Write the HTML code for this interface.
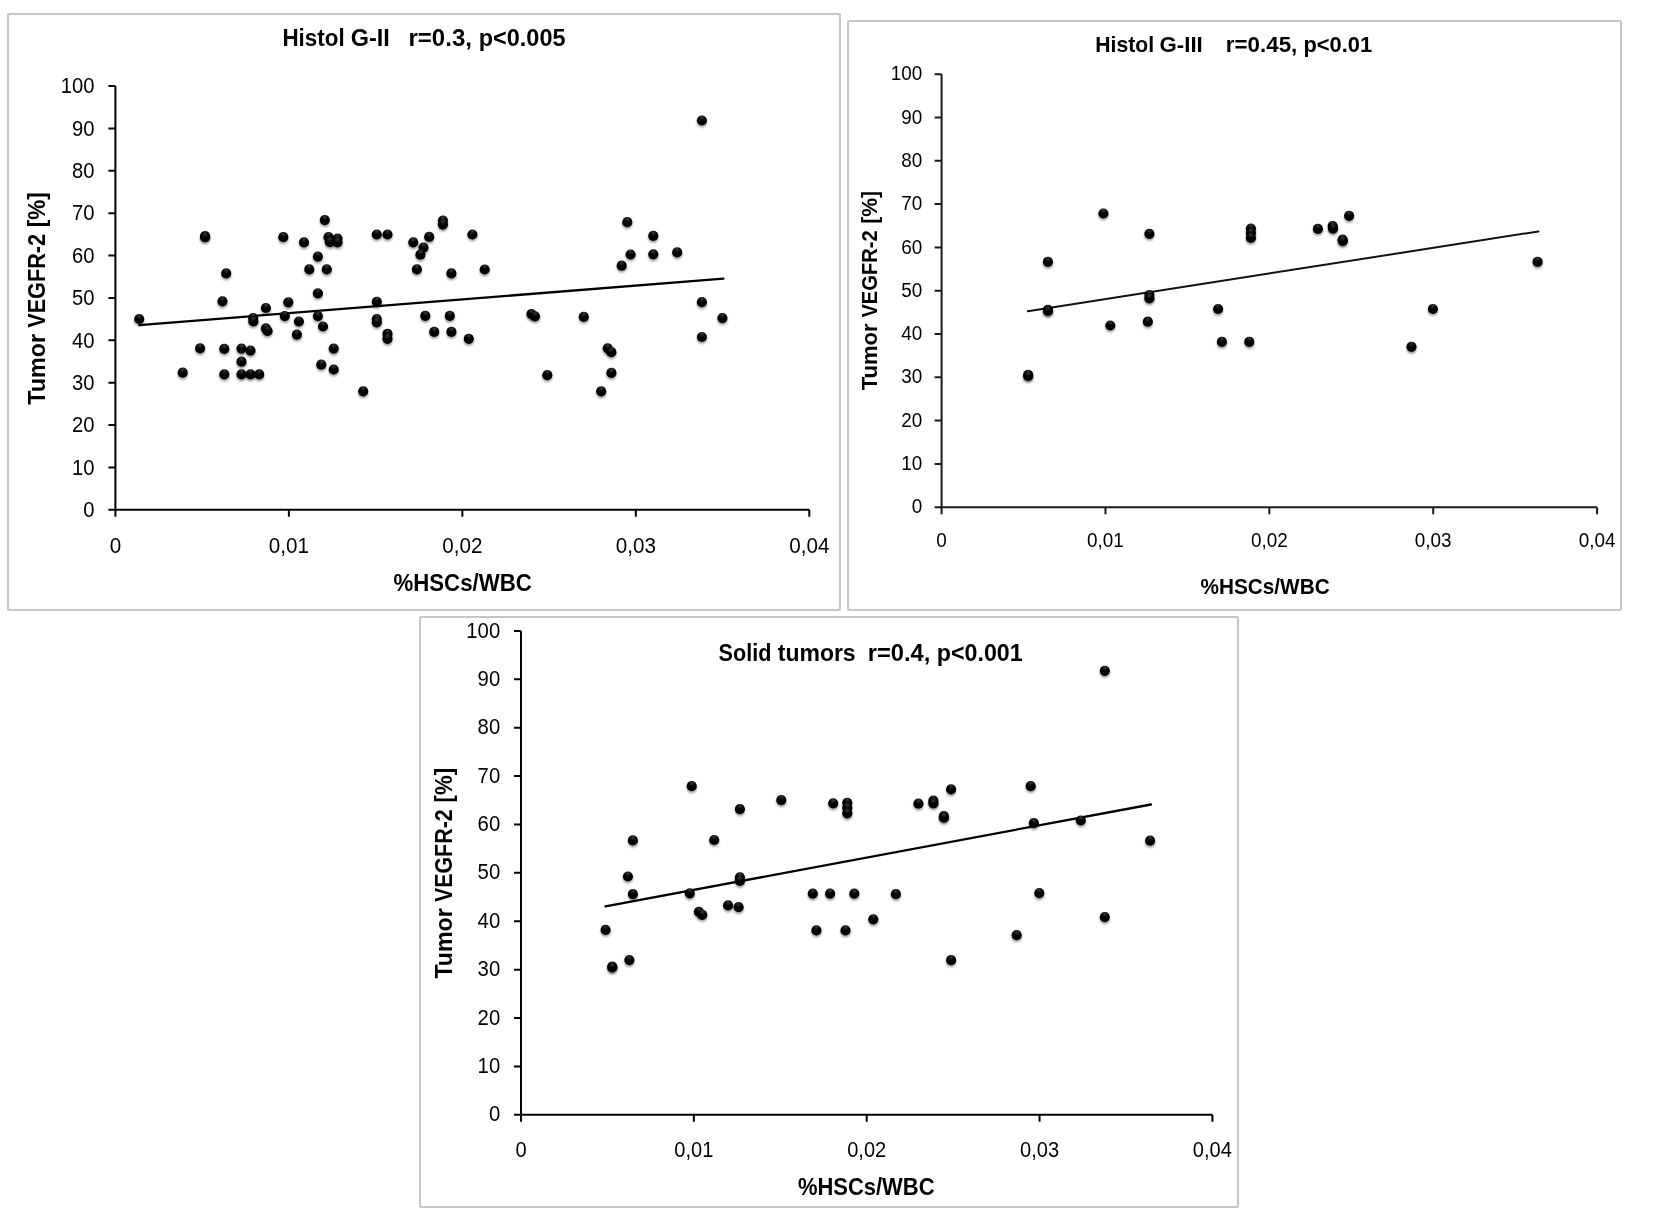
<!DOCTYPE html>
<html><head><meta charset="utf-8"><style>
html,body{margin:0;padding:0;background:#fff;}
svg{display:block;will-change:transform;font-family:"Liberation Sans",sans-serif;}
text{fill:#000;}
</style></head><body>
<svg width="1662" height="1218" viewBox="0 0 1662 1218">
<defs>
<filter id="sh" x="-50%" y="-50%" width="200%" height="200%">
<feGaussianBlur in="SourceAlpha" stdDeviation="1.3"/>
<feOffset dx="0.2" dy="1.6" result="b"/>
<feComponentTransfer><feFuncA type="linear" slope="0.38"/></feComponentTransfer>
<feMerge><feMergeNode/><feMergeNode in="SourceGraphic"/></feMerge>
</filter>
<radialGradient id="dg" cx="0.5" cy="0.2" r="0.55">
<stop offset="0" stop-color="#3a3a3a"/><stop offset="0.55" stop-color="#050505"/><stop offset="1" stop-color="#000"/>
</radialGradient>
<g id="dot"><circle cx="0" cy="0" r="5.1" fill="url(#dg)" filter="url(#sh)"/></g>
</defs>
<rect x="0" y="0" width="1662" height="1218" fill="#fff"/>
<rect x="8" y="14" width="832" height="596" rx="1.2" fill="none" stroke="#c6c6c6" stroke-width="2"/>
<rect x="848" y="21" width="773" height="589" rx="1.2" fill="none" stroke="#c6c6c6" stroke-width="2"/>
<rect x="420" y="617" width="818" height="590" rx="1.2" fill="none" stroke="#c6c6c6" stroke-width="2"/>
<path d="M108.40,509.85H809.30" stroke="#000" stroke-width="2" fill="none"/>
<path d="M115.40,86.00V516.85" stroke="#000" stroke-width="2" fill="none"/>
<path d="M108.40,467.47H115.40M108.40,425.08H115.40M108.40,382.69H115.40M108.40,340.31H115.40M108.40,297.93H115.40M108.40,255.54H115.40M108.40,213.15H115.40M108.40,170.77H115.40M108.40,128.38H115.40M108.40,86.00H115.40M288.88,509.85V516.85M462.35,509.85V516.85M635.82,509.85V516.85M809.30,509.85V516.85" stroke="#000" stroke-width="2" fill="none"/>
<text transform="translate(94.50,517.15) scale(0.95,1)" font-size="21.3" text-anchor="end">0</text>
<text transform="translate(94.50,474.77) scale(0.95,1)" font-size="21.3" text-anchor="end">10</text>
<text transform="translate(94.50,432.38) scale(0.95,1)" font-size="21.3" text-anchor="end">20</text>
<text transform="translate(94.50,390.00) scale(0.95,1)" font-size="21.3" text-anchor="end">30</text>
<text transform="translate(94.50,347.61) scale(0.95,1)" font-size="21.3" text-anchor="end">40</text>
<text transform="translate(94.50,305.23) scale(0.95,1)" font-size="21.3" text-anchor="end">50</text>
<text transform="translate(94.50,262.84) scale(0.95,1)" font-size="21.3" text-anchor="end">60</text>
<text transform="translate(94.50,220.45) scale(0.95,1)" font-size="21.3" text-anchor="end">70</text>
<text transform="translate(94.50,178.07) scale(0.95,1)" font-size="21.3" text-anchor="end">80</text>
<text transform="translate(94.50,135.69) scale(0.95,1)" font-size="21.3" text-anchor="end">90</text>
<text transform="translate(94.50,93.30) scale(0.95,1)" font-size="21.3" text-anchor="end">100</text>
<text transform="translate(115.40,552.80) scale(0.97,1)" font-size="21.3" text-anchor="middle">0</text>
<text transform="translate(288.88,552.80) scale(0.97,1)" font-size="21.3" text-anchor="middle">0,01</text>
<text transform="translate(462.35,552.80) scale(0.97,1)" font-size="21.3" text-anchor="middle">0,02</text>
<text transform="translate(635.82,552.80) scale(0.97,1)" font-size="21.3" text-anchor="middle">0,03</text>
<text transform="translate(809.30,552.80) scale(0.97,1)" font-size="21.3" text-anchor="middle">0,04</text>
<path d="M139.2,325.1L723.4,278.6" stroke="#000" stroke-width="2.3" stroke-linecap="round" fill="none"/>
<use href="#dot" x="139.2" y="319.0"/>
<use href="#dot" x="182.7" y="372.7"/>
<use href="#dot" x="200.1" y="348.3"/>
<use href="#dot" x="205.1" y="236.0"/>
<use href="#dot" x="205.1" y="237.2"/>
<use href="#dot" x="222.5" y="301.3"/>
<use href="#dot" x="224.3" y="348.9"/>
<use href="#dot" x="224.3" y="374.4"/>
<use href="#dot" x="226.2" y="273.4"/>
<use href="#dot" x="241.5" y="348.6"/>
<use href="#dot" x="241.5" y="361.7"/>
<use href="#dot" x="241.5" y="374.4"/>
<use href="#dot" x="250.5" y="350.6"/>
<use href="#dot" x="250.5" y="374.4"/>
<use href="#dot" x="259.2" y="374.4"/>
<use href="#dot" x="253.2" y="318.0"/>
<use href="#dot" x="253.4" y="321.5"/>
<use href="#dot" x="265.9" y="308.0"/>
<use href="#dot" x="265.9" y="328.4"/>
<use href="#dot" x="267.6" y="331.0"/>
<use href="#dot" x="283.3" y="237.2"/>
<use href="#dot" x="284.8" y="316.1"/>
<use href="#dot" x="288.3" y="302.3"/>
<use href="#dot" x="296.9" y="334.7"/>
<use href="#dot" x="298.9" y="321.5"/>
<use href="#dot" x="304.0" y="242.4"/>
<use href="#dot" x="309.3" y="269.4"/>
<use href="#dot" x="317.9" y="256.6"/>
<use href="#dot" x="317.9" y="293.3"/>
<use href="#dot" x="317.9" y="316.1"/>
<use href="#dot" x="323.0" y="326.5"/>
<use href="#dot" x="324.8" y="220.1"/>
<use href="#dot" x="326.8" y="269.4"/>
<use href="#dot" x="328.5" y="237.2"/>
<use href="#dot" x="329.9" y="242.2"/>
<use href="#dot" x="333.7" y="348.6"/>
<use href="#dot" x="321.3" y="364.7"/>
<use href="#dot" x="333.7" y="369.5"/>
<use href="#dot" x="337.5" y="238.5"/>
<use href="#dot" x="337.5" y="242.5"/>
<use href="#dot" x="363.2" y="391.3"/>
<use href="#dot" x="376.8" y="234.5"/>
<use href="#dot" x="387.5" y="234.5"/>
<use href="#dot" x="376.8" y="301.8"/>
<use href="#dot" x="376.8" y="319.0"/>
<use href="#dot" x="376.8" y="322.3"/>
<use href="#dot" x="387.5" y="333.8"/>
<use href="#dot" x="387.5" y="338.8"/>
<use href="#dot" x="413.3" y="242.4"/>
<use href="#dot" x="429.2" y="236.9"/>
<use href="#dot" x="423.5" y="247.6"/>
<use href="#dot" x="420.4" y="254.7"/>
<use href="#dot" x="442.9" y="220.5"/>
<use href="#dot" x="442.9" y="224.6"/>
<use href="#dot" x="416.9" y="269.3"/>
<use href="#dot" x="425.3" y="315.8"/>
<use href="#dot" x="434.2" y="331.9"/>
<use href="#dot" x="449.8" y="315.8"/>
<use href="#dot" x="451.4" y="273.4"/>
<use href="#dot" x="451.4" y="331.9"/>
<use href="#dot" x="472.4" y="234.5"/>
<use href="#dot" x="484.7" y="269.5"/>
<use href="#dot" x="468.8" y="338.8"/>
<use href="#dot" x="531.4" y="314.1"/>
<use href="#dot" x="535.0" y="316.3"/>
<use href="#dot" x="583.8" y="316.9"/>
<use href="#dot" x="547.3" y="375.2"/>
<use href="#dot" x="607.7" y="348.3"/>
<use href="#dot" x="611.4" y="352.2"/>
<use href="#dot" x="611.4" y="372.9"/>
<use href="#dot" x="601.2" y="391.3"/>
<use href="#dot" x="627.3" y="222.2"/>
<use href="#dot" x="653.3" y="235.9"/>
<use href="#dot" x="630.6" y="254.5"/>
<use href="#dot" x="621.7" y="265.7"/>
<use href="#dot" x="653.3" y="254.3"/>
<use href="#dot" x="677.2" y="252.4"/>
<use href="#dot" x="701.9" y="120.5"/>
<use href="#dot" x="701.9" y="302.2"/>
<use href="#dot" x="722.4" y="318.1"/>
<use href="#dot" x="701.9" y="337.0"/>
<text x="282.45" y="46.2" font-size="24.49" font-weight="bold" textLength="62.23" lengthAdjust="spacingAndGlyphs">Histol</text>
<text x="350.74" y="46.2" font-size="24.49" font-weight="bold" textLength="39.03" lengthAdjust="spacingAndGlyphs">G-II</text>
<text x="408.52" y="46.2" font-size="24.49" font-weight="bold" textLength="63.39" lengthAdjust="spacingAndGlyphs">r=0.3,</text>
<text x="478.65" y="46.2" font-size="24.49" font-weight="bold" textLength="86.90" lengthAdjust="spacingAndGlyphs">p&lt;0.005</text>
<text x="393.45" y="591.1" font-size="23.98" font-weight="bold" textLength="138.36" lengthAdjust="spacingAndGlyphs">%HSCs/WBC</text>
<text transform="translate(45.3,404.86) rotate(-90)" x="0" y="0" font-size="23.84" font-weight="bold" textLength="70.90" lengthAdjust="spacingAndGlyphs">Tumor</text>
<text transform="translate(45.3,327.75) rotate(-90)" x="0" y="0" font-size="23.84" font-weight="bold" textLength="93.81" lengthAdjust="spacingAndGlyphs">VEGFR-2</text>
<text transform="translate(45.3,227.16) rotate(-90)" x="0" y="0" font-size="23.84" font-weight="bold" textLength="34.92" lengthAdjust="spacingAndGlyphs">[%]</text>
<path d="M934.60,507.20H1597.10" stroke="#1a1a1a" stroke-width="2" fill="none"/>
<path d="M941.60,74.20V514.20" stroke="#1a1a1a" stroke-width="2" fill="none"/>
<path d="M934.60,463.90H941.60M934.60,420.60H941.60M934.60,377.30H941.60M934.60,334.00H941.60M934.60,290.70H941.60M934.60,247.40H941.60M934.60,204.10H941.60M934.60,160.80H941.60M934.60,117.50H941.60M934.60,74.20H941.60M1105.47,507.20V514.20M1269.35,507.20V514.20M1433.22,507.20V514.20M1597.10,507.20V514.20" stroke="#1a1a1a" stroke-width="2" fill="none"/>
<text transform="translate(922.30,513.30) scale(0.95,1)" font-size="19.9" text-anchor="end">0</text>
<text transform="translate(922.30,470.00) scale(0.95,1)" font-size="19.9" text-anchor="end">10</text>
<text transform="translate(922.30,426.70) scale(0.95,1)" font-size="19.9" text-anchor="end">20</text>
<text transform="translate(922.30,383.40) scale(0.95,1)" font-size="19.9" text-anchor="end">30</text>
<text transform="translate(922.30,340.10) scale(0.95,1)" font-size="19.9" text-anchor="end">40</text>
<text transform="translate(922.30,296.80) scale(0.95,1)" font-size="19.9" text-anchor="end">50</text>
<text transform="translate(922.30,253.50) scale(0.95,1)" font-size="19.9" text-anchor="end">60</text>
<text transform="translate(922.30,210.20) scale(0.95,1)" font-size="19.9" text-anchor="end">70</text>
<text transform="translate(922.30,166.90) scale(0.95,1)" font-size="19.9" text-anchor="end">80</text>
<text transform="translate(922.30,123.60) scale(0.95,1)" font-size="19.9" text-anchor="end">90</text>
<text transform="translate(922.30,80.30) scale(0.95,1)" font-size="19.9" text-anchor="end">100</text>
<text transform="translate(941.60,547.40) scale(0.95,1)" font-size="19.9" text-anchor="middle">0</text>
<text transform="translate(1105.47,547.40) scale(0.95,1)" font-size="19.9" text-anchor="middle">0,01</text>
<text transform="translate(1269.35,547.40) scale(0.95,1)" font-size="19.9" text-anchor="middle">0,02</text>
<text transform="translate(1433.22,547.40) scale(0.95,1)" font-size="19.9" text-anchor="middle">0,03</text>
<text transform="translate(1597.10,547.40) scale(0.95,1)" font-size="19.9" text-anchor="middle">0,04</text>
<path d="M1027.8,311.2L1538.5,231.4" stroke="#111" stroke-width="2.0" stroke-linecap="round" fill="none"/>
<use href="#dot" x="1103.4" y="213.5"/>
<use href="#dot" x="1149.4" y="233.8"/>
<use href="#dot" x="1047.9" y="261.9"/>
<use href="#dot" x="1048.0" y="309.8"/>
<use href="#dot" x="1048.0" y="311.0"/>
<use href="#dot" x="1149.4" y="295.1"/>
<use href="#dot" x="1149.4" y="298.4"/>
<use href="#dot" x="1110.3" y="325.5"/>
<use href="#dot" x="1147.8" y="321.7"/>
<use href="#dot" x="1028.2" y="374.8"/>
<use href="#dot" x="1028.2" y="376.0"/>
<use href="#dot" x="1250.9" y="228.6"/>
<use href="#dot" x="1250.9" y="233.0"/>
<use href="#dot" x="1250.9" y="237.9"/>
<use href="#dot" x="1317.9" y="228.9"/>
<use href="#dot" x="1332.7" y="226.1"/>
<use href="#dot" x="1333.0" y="228.6"/>
<use href="#dot" x="1349.1" y="215.8"/>
<use href="#dot" x="1342.6" y="239.5"/>
<use href="#dot" x="1342.8" y="240.8"/>
<use href="#dot" x="1218.1" y="309.0"/>
<use href="#dot" x="1221.9" y="341.9"/>
<use href="#dot" x="1249.3" y="341.9"/>
<use href="#dot" x="1537.6" y="261.9"/>
<use href="#dot" x="1432.9" y="309.0"/>
<use href="#dot" x="1411.5" y="346.8"/>
<text x="1095.18" y="51.66" font-size="22.91" font-weight="bold" textLength="58.92" lengthAdjust="spacingAndGlyphs">Histol</text>
<text x="1159.59" y="51.66" font-size="22.91" font-weight="bold" textLength="43.20" lengthAdjust="spacingAndGlyphs">G-III</text>
<text x="1225.83" y="51.66" font-size="22.91" font-weight="bold" textLength="71.47" lengthAdjust="spacingAndGlyphs">r=0.45,</text>
<text x="1303.46" y="51.66" font-size="22.91" font-weight="bold" textLength="68.75" lengthAdjust="spacingAndGlyphs">p&lt;0.01</text>
<text x="1200.58" y="594.14" font-size="22.24" font-weight="bold" textLength="129.08" lengthAdjust="spacingAndGlyphs">%HSCs/WBC</text>
<text transform="translate(876.6,390.24) rotate(-90)" x="0" y="0" font-size="22.67" font-weight="bold" textLength="66.77" lengthAdjust="spacingAndGlyphs">Tumor</text>
<text transform="translate(876.6,317.54) rotate(-90)" x="0" y="0" font-size="22.67" font-weight="bold" textLength="87.14" lengthAdjust="spacingAndGlyphs">VEGFR-2</text>
<text transform="translate(876.6,223.79) rotate(-90)" x="0" y="0" font-size="22.67" font-weight="bold" textLength="32.98" lengthAdjust="spacingAndGlyphs">[%]</text>
<path d="M514.00,1114.80H1212.40" stroke="#000" stroke-width="2" fill="none"/>
<path d="M521.00,630.90V1121.80" stroke="#000" stroke-width="2" fill="none"/>
<path d="M514.00,1066.41H521.00M514.00,1018.02H521.00M514.00,969.63H521.00M514.00,921.24H521.00M514.00,872.85H521.00M514.00,824.46H521.00M514.00,776.07H521.00M514.00,727.68H521.00M514.00,679.29H521.00M514.00,630.90H521.00M693.85,1114.80V1121.80M866.70,1114.80V1121.80M1039.55,1114.80V1121.80M1212.40,1114.80V1121.80" stroke="#000" stroke-width="2" fill="none"/>
<text transform="translate(500.20,1121.40) scale(0.94,1)" font-size="21.6" text-anchor="end">0</text>
<text transform="translate(500.20,1073.01) scale(0.94,1)" font-size="21.6" text-anchor="end">10</text>
<text transform="translate(500.20,1024.62) scale(0.94,1)" font-size="21.6" text-anchor="end">20</text>
<text transform="translate(500.20,976.23) scale(0.94,1)" font-size="21.6" text-anchor="end">30</text>
<text transform="translate(500.20,927.84) scale(0.94,1)" font-size="21.6" text-anchor="end">40</text>
<text transform="translate(500.20,879.45) scale(0.94,1)" font-size="21.6" text-anchor="end">50</text>
<text transform="translate(500.20,831.06) scale(0.94,1)" font-size="21.6" text-anchor="end">60</text>
<text transform="translate(500.20,782.67) scale(0.94,1)" font-size="21.6" text-anchor="end">70</text>
<text transform="translate(500.20,734.28) scale(0.94,1)" font-size="21.6" text-anchor="end">80</text>
<text transform="translate(500.20,685.89) scale(0.94,1)" font-size="21.6" text-anchor="end">90</text>
<text transform="translate(500.20,637.50) scale(0.94,1)" font-size="21.6" text-anchor="end">100</text>
<text transform="translate(521.00,1157.00) scale(0.93,1)" font-size="21.6" text-anchor="middle">0</text>
<text transform="translate(693.85,1157.00) scale(0.93,1)" font-size="21.6" text-anchor="middle">0,01</text>
<text transform="translate(866.70,1157.00) scale(0.93,1)" font-size="21.6" text-anchor="middle">0,02</text>
<text transform="translate(1039.55,1157.00) scale(0.93,1)" font-size="21.6" text-anchor="middle">0,03</text>
<text transform="translate(1212.40,1157.00) scale(0.93,1)" font-size="21.6" text-anchor="middle">0,04</text>
<path d="M605.4,906.4L1150.9,804.5" stroke="#000" stroke-width="2.3" stroke-linecap="round" fill="none"/>
<use href="#dot" x="691.7" y="786.2"/>
<use href="#dot" x="739.9" y="809.1"/>
<use href="#dot" x="781.3" y="800.1"/>
<use href="#dot" x="632.9" y="840.4"/>
<use href="#dot" x="714.2" y="840.0"/>
<use href="#dot" x="627.9" y="876.5"/>
<use href="#dot" x="632.9" y="894.1"/>
<use href="#dot" x="689.8" y="893.3"/>
<use href="#dot" x="739.9" y="877.4"/>
<use href="#dot" x="739.9" y="881.0"/>
<use href="#dot" x="698.9" y="911.8"/>
<use href="#dot" x="702.3" y="914.8"/>
<use href="#dot" x="728.1" y="905.4"/>
<use href="#dot" x="738.6" y="907.2"/>
<use href="#dot" x="605.6" y="929.9"/>
<use href="#dot" x="629.4" y="960.1"/>
<use href="#dot" x="612.3" y="966.5"/>
<use href="#dot" x="612.3" y="967.5"/>
<use href="#dot" x="833.2" y="803.4"/>
<use href="#dot" x="847.3" y="802.8"/>
<use href="#dot" x="847.3" y="807.9"/>
<use href="#dot" x="847.3" y="813.3"/>
<use href="#dot" x="918.4" y="803.7"/>
<use href="#dot" x="933.4" y="800.6"/>
<use href="#dot" x="933.4" y="803.4"/>
<use href="#dot" x="951.1" y="789.3"/>
<use href="#dot" x="943.9" y="816.2"/>
<use href="#dot" x="943.9" y="817.6"/>
<use href="#dot" x="812.8" y="893.7"/>
<use href="#dot" x="830.1" y="893.7"/>
<use href="#dot" x="854.3" y="893.7"/>
<use href="#dot" x="895.9" y="894.2"/>
<use href="#dot" x="873.3" y="919.3"/>
<use href="#dot" x="816.4" y="930.4"/>
<use href="#dot" x="845.5" y="930.4"/>
<use href="#dot" x="951.1" y="960.2"/>
<use href="#dot" x="1104.8" y="670.8"/>
<use href="#dot" x="1030.7" y="786.2"/>
<use href="#dot" x="1033.9" y="823.2"/>
<use href="#dot" x="1080.8" y="820.5"/>
<use href="#dot" x="1150.1" y="840.7"/>
<use href="#dot" x="1039.3" y="893.1"/>
<use href="#dot" x="1104.8" y="917.1"/>
<use href="#dot" x="1016.7" y="935.2"/>
<text x="718.58" y="660.75" font-size="24.13" font-weight="bold" textLength="52.74" lengthAdjust="spacingAndGlyphs">Solid</text>
<text x="777.77" y="660.75" font-size="24.13" font-weight="bold" textLength="77.87" lengthAdjust="spacingAndGlyphs">tumors</text>
<text x="867.74" y="660.75" font-size="24.13" font-weight="bold" textLength="62.65" lengthAdjust="spacingAndGlyphs">r=0.4,</text>
<text x="936.87" y="660.75" font-size="24.13" font-weight="bold" textLength="85.77" lengthAdjust="spacingAndGlyphs">p&lt;0.001</text>
<text x="797.95" y="1195.1" font-size="23.40" font-weight="bold" textLength="136.55" lengthAdjust="spacingAndGlyphs">%HSCs/WBC</text>
<text transform="translate(452.0,978.55) rotate(-90)" x="0" y="0" font-size="24.13" font-weight="bold" textLength="70.30" lengthAdjust="spacingAndGlyphs">Tumor</text>
<text transform="translate(452.0,902.05) rotate(-90)" x="0" y="0" font-size="24.13" font-weight="bold" textLength="92.70" lengthAdjust="spacingAndGlyphs">VEGFR-2</text>
<text transform="translate(452.0,802.45) rotate(-90)" x="0" y="0" font-size="24.13" font-weight="bold" textLength="34.49" lengthAdjust="spacingAndGlyphs">[%]</text>
</svg>
</body></html>
